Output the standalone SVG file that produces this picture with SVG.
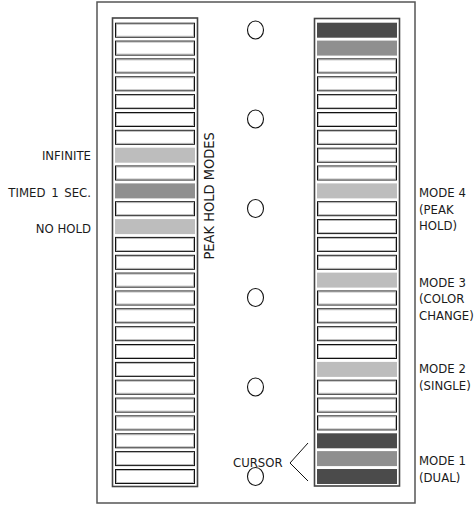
<svg xmlns="http://www.w3.org/2000/svg" xmlns:xlink="http://www.w3.org/1999/xlink" width="476" height="505" viewBox="0 0 476 505">
<style>
text{font-family:"DejaVu Sans Condensed","DejaVu Sans",sans-serif;font-stretch:condensed;font-size:13px;fill:#1a1a1a}
.vert{font-size:14.5px}
.frame{fill:#fff;stroke:#444;stroke-width:1.6}
.outer{fill:#fff;stroke:#555;stroke-width:1.5}
.lt{fill:#bdbdbd}
.md{fill:#8f8f8f}
.dk{fill:#4b4b4b}
.hole{fill:#fff;stroke:#111;stroke-width:1.1}
.conn{fill:none;stroke:#111;stroke-width:1}
</style>
<defs>
<g id="cell">
<rect x="0.5" y="0.5" width="79" height="14" fill="#fff" stroke="#111" stroke-width="1"/>
<rect x="1.5" y="1.5" width="77" height="12" fill="none" stroke="#aaa" stroke-width="0.8"/>
</g>
</defs>
<rect id="panel" class="outer" x="97" y="2" width="318" height="501"/>
<g id="left-column">
<rect class="frame" x="112.5" y="18" width="85" height="468.5"/>
<use xlink:href="#cell" x="115" y="22.7"/>
<use xlink:href="#cell" x="115" y="40.6"/>
<use xlink:href="#cell" x="115" y="58.4"/>
<use xlink:href="#cell" x="115" y="76.3"/>
<use xlink:href="#cell" x="115" y="94.1"/>
<use xlink:href="#cell" x="115" y="112"/>
<use xlink:href="#cell" x="115" y="129.8"/>
<rect id="seg-infinite" class="lt" x="115" y="147.7" width="80" height="15"/>
<use xlink:href="#cell" x="115" y="165.5"/>
<rect id="seg-timed" class="md" x="115" y="183.4" width="80" height="15"/>
<use xlink:href="#cell" x="115" y="201.2"/>
<rect id="seg-nohold" class="lt" x="115" y="219.1" width="80" height="15"/>
<use xlink:href="#cell" x="115" y="236.9"/>
<use xlink:href="#cell" x="115" y="254.8"/>
<use xlink:href="#cell" x="115" y="272.6"/>
<use xlink:href="#cell" x="115" y="290.5"/>
<use xlink:href="#cell" x="115" y="308.3"/>
<use xlink:href="#cell" x="115" y="326.2"/>
<use xlink:href="#cell" x="115" y="344"/>
<use xlink:href="#cell" x="115" y="361.9"/>
<use xlink:href="#cell" x="115" y="379.7"/>
<use xlink:href="#cell" x="115" y="397.6"/>
<use xlink:href="#cell" x="115" y="415.4"/>
<use xlink:href="#cell" x="115" y="433.3"/>
<use xlink:href="#cell" x="115" y="451.1"/>
<use xlink:href="#cell" x="115" y="469"/>
</g>
<g id="right-column">
<rect class="frame" x="314.5" y="18.5" width="85" height="467.5"/>
<rect class="dk" x="317" y="22.7" width="80" height="15"/>
<rect class="md" x="317" y="40.6" width="80" height="15"/>
<use xlink:href="#cell" x="317" y="58.4"/>
<use xlink:href="#cell" x="317" y="76.3"/>
<use xlink:href="#cell" x="317" y="94.1"/>
<use xlink:href="#cell" x="317" y="112"/>
<use xlink:href="#cell" x="317" y="129.8"/>
<use xlink:href="#cell" x="317" y="147.7"/>
<use xlink:href="#cell" x="317" y="165.5"/>
<rect id="seg-mode4" class="lt" x="317" y="183.4" width="80" height="15"/>
<use xlink:href="#cell" x="317" y="201.2"/>
<use xlink:href="#cell" x="317" y="219.1"/>
<use xlink:href="#cell" x="317" y="236.9"/>
<use xlink:href="#cell" x="317" y="254.8"/>
<rect id="seg-mode3" class="lt" x="317" y="272.6" width="80" height="15"/>
<use xlink:href="#cell" x="317" y="290.5"/>
<use xlink:href="#cell" x="317" y="308.3"/>
<use xlink:href="#cell" x="317" y="326.2"/>
<use xlink:href="#cell" x="317" y="344"/>
<rect id="seg-mode2" class="lt" x="317" y="361.9" width="80" height="15"/>
<use xlink:href="#cell" x="317" y="379.7"/>
<use xlink:href="#cell" x="317" y="397.6"/>
<use xlink:href="#cell" x="317" y="415.4"/>
<rect id="seg-mode1a" class="dk" x="317" y="433.3" width="80" height="15"/>
<rect id="seg-mode1b" class="md" x="317" y="451.1" width="80" height="15"/>
<rect id="seg-mode1c" class="dk" x="317" y="469" width="80" height="15"/>
</g>
<g id="holes">
<ellipse class="hole" cx="255.5" cy="30" rx="8" ry="9"/>
<ellipse class="hole" cx="255.5" cy="119" rx="8" ry="9"/>
<ellipse class="hole" cx="255.5" cy="208.5" rx="8" ry="9"/>
<ellipse class="hole" cx="255.5" cy="297.5" rx="8" ry="9"/>
<ellipse class="hole" cx="255.5" cy="387" rx="8" ry="9"/>
<ellipse class="hole" cx="255.5" cy="476.5" rx="8" ry="9"/>
</g>
<g id="connectors">
<polyline class="conn" points="308,443 290,463 308,481"/>
</g>
<g id="left-labels">
<text x="91" y="160" text-anchor="end">INFINITE</text>
<text x="91" y="196.5" text-anchor="end" word-spacing="2">TIMED 1 SEC.</text>
<text x="91" y="232.5" text-anchor="end">NO HOLD</text>
<text class="vert" transform="translate(213.5,259.5) rotate(-90)">PEAK HOLD MODES</text>
</g>
<g id="right-labels">
<text x="419" y="197">MODE 4</text>
<text x="419" y="213.5">(PEAK</text>
<text x="419" y="230">HOLD)</text>
<text x="419" y="286.5">MODE 3</text>
<text x="419" y="303">(COLOR</text>
<text x="419" y="319.5">CHANGE)</text>
<text x="419" y="373">MODE 2</text>
<text x="419" y="389.5">(SINGLE)</text>
<text x="419" y="465">MODE 1</text>
<text x="419" y="481.5">(DUAL)</text>
<text id="cursor-label" x="233" y="467">CURSOR</text>
</g>
</svg>
